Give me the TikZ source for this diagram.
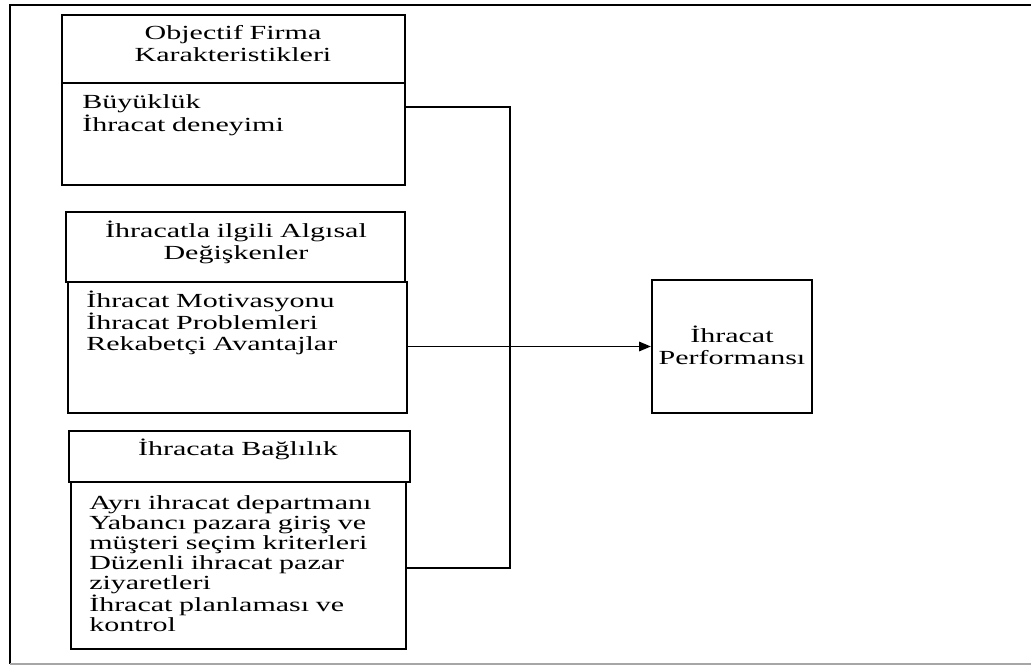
\documentclass[tikz,border=0pt]{standalone}
\usepackage{fontspec}
\setmainfont{Liberation Serif}[FakeStretch=1.5]
\usetikzlibrary{fit,arrows.meta}

\begin{document}
\begin{tikzpicture}[x=0.75pt,y=-0.75pt,
  panel/.style={draw, line width=1.6pt, inner sep=0pt},
  headtext/.style={font=\fontsize{15}{16}\selectfont, inner sep=0pt,
    text width=250pt, align=center, anchor=base},
  bodytext/.style={font=\fontsize{15}{15}\selectfont, inner sep=0pt,
    text width=250pt, align=left, anchor=base west},
  link/.style={line width=1.3pt},
  arrowlink/.style={line width=1.3pt, -{Triangle[length=8.8pt,width=7pt]}}]
\useasboundingbox (0,0) rectangle (1031,666);

% outer frame
\draw[line width=1.6pt] (1031,5) -- (10,5) -- (10,664);
\draw[gray!70, line width=1pt] (10,664) -- (1031,664);

% group 1
\node[panel, fit={(62,15) (405,83)}] (h1) {};
\node[panel, fit={(62,83) (405,185)}] (b1) {};
\node[headtext] (h1t) at (233,40) {Objectif Firma\\Karakteristikleri};
\node[bodytext] (b1t) at (82,109) {Büyüklük\\İhracat deneyimi};

% group 2
\node[panel, fit={(66,212) (405,282)}] (h2) {};
\node[panel, fit={(68,282) (407,413)}] (b2) {};
\node[headtext] (h2t) at (236,238) {İhracatla ilgili Algısal\\Değişkenler};
\node[bodytext, font=\fontsize{15}{15.8}\selectfont] (b2t) at (86,308)
  {İhracat Motivasyonu\\İhracat Problemleri\\Rekabetçi Avantajlar};

% group 3
\node[panel, fit={(69,431) (410,482)}] (h3) {};
\node[panel, fit={(71,482) (406,649)}] (b3) {};
\node[headtext] (h3t) at (238,455) {İhracata Bağlılık};
\node[bodytext] (b3t) at (89,509)
  {Ayrı ihracat departmanı\\Yabancı pazara giriş ve\\müşteri seçim kriterleri\\Düzenli ihracat pazar\\ziyaretleri\\İhracat planlaması ve\\kontrol};

% outcome
\node[panel, fit={(652,280) (812,413)}] (perf) {};
\node[headtext, text width=110pt] (perft) at (732,343) {İhracat\\Performansı};

% connectors
\coordinate (j1) at (510,107);
\coordinate (j3) at (510,568);
\draw[link] (b1.east |- j1) -- (j1) -- (j3) -- (b3.east |- j3);
\draw[arrowlink] (b2.east |- perf.west) -- (perf.west);
\end{tikzpicture}
\end{document}
